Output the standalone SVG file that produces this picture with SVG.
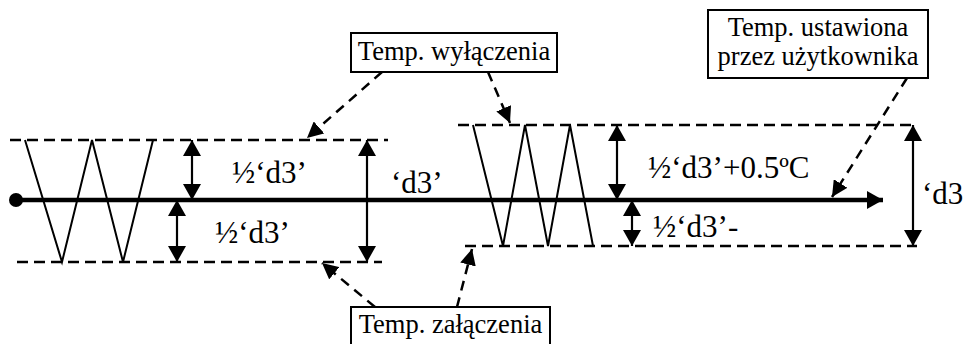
<svg xmlns="http://www.w3.org/2000/svg" width="965" height="344" viewBox="0 0 965 344">
<style>
.lbl{font-family:"Liberation Serif","Times New Roman",serif;font-size:31px;fill:#000}
.box text{font-family:"Liberation Serif","Times New Roman",serif;font-size:26.5px;fill:#000;text-anchor:middle}
.box rect{fill:#fff;stroke:#000;stroke-width:2}
.lim{stroke:#000;stroke-width:2.5;stroke-dasharray:11 6;fill:none}
.zig{stroke:#000;stroke-width:2;fill:none}
.dim{stroke:#000;stroke-width:2.2;marker-start:url(#ah);marker-end:url(#ah)}
.con{stroke:#000;stroke-width:2.5;stroke-dasharray:10 7;fill:none;marker-end:url(#ch)}
</style>
<defs>
<marker id="ah" markerUnits="userSpaceOnUse" markerWidth="16" markerHeight="18" viewBox="0 0 16 18" refX="16" refY="9" orient="auto-start-reverse"><path d="M0,0 L16,9 L0,18 z" fill="#000"/></marker>
<marker id="ch" markerUnits="userSpaceOnUse" markerWidth="16" markerHeight="16" viewBox="0 0 16 16" refX="16" refY="8" orient="auto"><path d="M0,0 L16,8 L0,16 z" fill="#000"/></marker>
<marker id="axh" markerUnits="userSpaceOnUse" markerWidth="16" markerHeight="18" viewBox="0 0 16 18" refX="16" refY="9" orient="auto"><path d="M0,0 L16,9 L0,18 z" fill="#000"/></marker>
</defs>

<g id="limits">
<line class="lim" x1="10" y1="140" x2="388" y2="140"/>
<line class="lim" x1="17" y1="262" x2="382" y2="262"/>
<line class="lim" x1="458" y1="125" x2="912" y2="125"/>
<line class="lim" x1="465" y1="246" x2="917" y2="246"/>
</g>

<g id="zigzag-left"><polyline class="zig" points="25,140 62,262 92,140 123,262 153,140"/></g>
<g id="zigzag-right"><polyline class="zig" points="473,125 503,246 525,125 548,246 570,125 593,246"/></g>

<g id="axis">
<line x1="16" y1="200" x2="883" y2="200" stroke="#000" stroke-width="4.5" marker-end="url(#axh)"/>
<circle cx="16" cy="200" r="7" fill="#000"/>
</g>

<g id="dimensions">
<line class="dim" x1="192" y1="140" x2="192" y2="200"/>
<line class="dim" x1="177" y1="200" x2="177" y2="262"/>
<line class="dim" x1="367" y1="140" x2="367" y2="262"/>
<line class="dim" x1="617" y1="125" x2="617" y2="200"/>
<line class="dim" x1="632" y1="200" x2="632" y2="246"/>
<line class="dim" x1="913" y1="125" x2="913" y2="246"/>
</g>

<g id="labels">
<text class="lbl" x="232" y="183">½‘d3’</text>
<text class="lbl" x="215" y="243">½‘d3’</text>
<text class="lbl" x="391" y="193">‘d3’</text>
<text class="lbl" x="648" y="178">½‘d3’+0.5ºC</text>
<text class="lbl" x="653" y="237">½‘d3’-</text>
<text class="lbl" x="922" y="204">‘d3</text>
</g>

<g id="connectors">
<line class="con" x1="382" y1="72" x2="307" y2="138"/>
<line class="con" x1="488" y1="72" x2="510" y2="123"/>
<line class="con" x1="907" y1="78" x2="832" y2="197"/>
<line class="con" x1="375" y1="307" x2="322" y2="263"/>
<line class="con" x1="457" y1="307" x2="472" y2="249"/>
</g>

<g id="box-off" class="box">
<rect x="351" y="33" width="206" height="39"/>
<text x="454" y="60">Temp. wyłączenia</text>
</g>
<g id="box-set" class="box">
<rect x="708" y="10" width="220" height="68"/>
<text x="818" y="36">Temp. ustawiona</text>
<text x="818" y="65">przez użytkownika</text>
</g>
<g id="box-on" class="box">
<rect x="351" y="307" width="199" height="50"/>
<text x="450.5" y="333">Temp. załączenia</text>
</g>
</svg>
